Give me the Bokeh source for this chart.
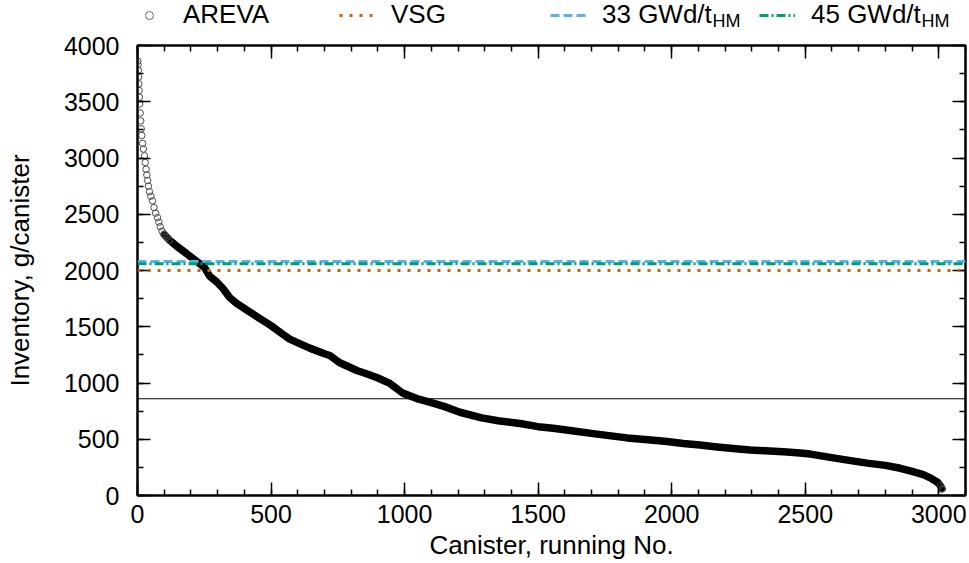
from bokeh.plotting import figure
from bokeh.layouts import column
from bokeh.models import (Legend, LegendItem, Label, Span, LinearAxis,
                          SingleIntervalTicker, Range1d)
from bokeh.embed import file_html
from bokeh.resources import INLINE

# ---------------- data ----------------
top_canister = [1, 2, 3, 4, 5, 6, 7, 8, 10, 12, 14, 16, 19, 22, 26, 29, 32, 35,
                38, 41, 45, 50, 56, 62, 68, 75, 80, 85, 92, 100, 110, 120]
top_inventory = [3860, 3830, 3780, 3720, 3660, 3600, 3540, 3480, 3400, 3330,
                 3260, 3200, 3130, 3080, 3020, 2960, 2900, 2850, 2800, 2750,
                 2700, 2660, 2620, 2560, 2510, 2470, 2430, 2390, 2350, 2320,
                 2295, 2270]

canister = [100, 120, 150, 184, 200, 232, 250, 270, 296, 320, 345, 370, 408,
            457, 500, 540, 570, 607, 645, 700, 720, 757, 795, 821, 860, 896,
            945, 993, 1046, 1100, 1150, 1207, 1289, 1350, 1432, 1500, 1556,
            1620, 1706, 1780, 1833, 1900, 1983, 2043, 2106, 2170, 2230, 2294,
            2350, 2418, 2481, 2519, 2560, 2605, 2670, 2732, 2800, 2856, 2900,
            2942, 2970, 2995, 3005, 3012]
inventory = [2320, 2270, 2210, 2150, 2120, 2062, 2030, 1950, 1900, 1840, 1760,
             1710, 1650, 1575, 1510, 1440, 1390, 1350, 1310, 1260, 1244, 1180,
             1140, 1111, 1080, 1049, 996, 910, 862, 825, 790, 740, 690, 665,
             640, 612, 598, 578, 550, 528, 512, 498, 480, 462, 448, 432, 418,
             405, 398, 388, 378, 368, 352, 334, 310, 288, 268, 242, 215, 185,
             155, 118, 90, 60]

vsg_value = 2000
gwd33_value = 2080
gwd45_value = 2060
reference_value = 860

x_limits = (0, 3100)
y_limits = (0, 4000)

legend_labels = ["AREVA", "VSG", "33 GWd/t", "45 GWd/t"]
subscript = "HM"

FONT = "Liberation Sans"
VSG_C, C33, C45 = "#D55E00", "#56B4E9", "#009E73"
LEG_H = 31

# ---------------- main figure ----------------
p = figure(frame_width=828, frame_height=450, output_backend="svg",
           toolbar_location=None,
           x_range=Range1d(*x_limits), y_range=Range1d(*y_limits),
           min_border_left=137, min_border_right=3, min_border_top=14,
           min_border_bottom=10)
p.grid.visible = False
p.outline_line_color = "black"
p.outline_line_width = 2

xt = SingleIntervalTicker(interval=500, num_minor_ticks=5)
yt = SingleIntervalTicker(interval=500, num_minor_ticks=2)

for ax in (p.xaxis[0], p.yaxis[0]):
    ax.axis_line_width = 2
    ax.major_tick_in = 13
    ax.major_tick_out = 0
    ax.minor_tick_in = 6
    ax.minor_tick_out = 0
    ax.major_tick_line_width = 1.5
    ax.minor_tick_line_width = 1.5
    ax.major_label_text_font = FONT
    ax.major_label_text_font_size = "25px"
    ax.major_label_text_color = "black"
    ax.axis_label_text_font = FONT
    ax.axis_label_text_font_size = "26px"
    ax.axis_label_text_font_style = "normal"
    ax.axis_label_text_color = "black"

p.xaxis[0].ticker = xt
p.yaxis[0].ticker = yt
p.xaxis[0].axis_label = "Canister, running No."
p.yaxis[0].axis_label = "Inventory, g/canister"
p.xaxis[0].major_label_standoff = 9
p.yaxis[0].major_label_standoff = 18
p.xaxis[0].axis_label_standoff = 4
p.yaxis[0].axis_label_standoff = 26

for loc, tick in (("right", yt), ("above", xt)):
    ax = LinearAxis(ticker=tick, major_label_text_font_size="0px",
                    axis_line_width=2, major_tick_in=13, major_tick_out=0,
                    minor_tick_in=6, minor_tick_out=0,
                    major_tick_line_width=1.5, minor_tick_line_width=1.5,
                    major_label_standoff=0)
    p.add_layout(ax, loc)

# reference lines
p.add_layout(Span(location=reference_value, dimension="width",
                  line_color="black", line_width=1.2))
p.add_layout(Span(location=vsg_value, dimension="width", line_color=VSG_C,
                  line_width=3, line_dash="3 7"))
p.add_layout(Span(location=gwd33_value, dimension="width", line_color=C33,
                  line_width=3, line_dash="9 4"))
p.add_layout(Span(location=gwd45_value, dimension="width", line_color=C45,
                  line_width=3, line_dash="9 3 2 3"))

# data
p.line(canister, inventory, line_color="black", line_width=7.5,
       line_join="round", line_cap="round")
p.scatter(top_canister, top_inventory, marker="circle", size=6.5,
          fill_color=None, line_color="#4d4d4d", line_width=1)
p.scatter(canister[-2:], inventory[-2:], marker="circle", size=6,
          fill_color=None, line_color="#4d4d4d", line_width=1)

# ---------------- legend strip (frame aligned with main frame) ----------------
lg = figure(frame_width=828, frame_height=LEG_H, output_backend="svg",
            toolbar_location=None, x_range=Range1d(*x_limits),
            y_range=Range1d(0, LEG_H), x_axis_type=None, y_axis_type=None,
            min_border_left=137, min_border_right=3,
            min_border_top=0, min_border_bottom=0)
lg.grid.visible = False
lg.outline_line_color = None

# style proxies (their data lies outside this strip's range, so only the
# legend keys are visible)
r_pt = lg.scatter(top_canister[:1], top_inventory[:1], marker="circle",
                  size=5, fill_color=None, line_color="#666666")
r_vsg = lg.line(list(x_limits), [vsg_value] * 2, line_color=VSG_C,
                line_width=3, line_dash="3 7")
r_33 = lg.line(list(x_limits), [gwd33_value] * 2, line_color=C33,
               line_width=3, line_dash="9 4")
r_45 = lg.line(list(x_limits), [gwd45_value] * 2, line_color=C45,
               line_width=3, line_dash="9 3 2 3")

leg_x = [-6, 202, 413, 622]
for lab, rend, lx in zip(legend_labels, [r_pt, r_vsg, r_33, r_45], leg_x):
    leg = Legend(items=[LegendItem(label=lab, renderers=[rend])],
                 location=(lx, 1), orientation="horizontal",
                 border_line_color=None, background_fill_alpha=0,
                 padding=0, margin=0, glyph_width=36, glyph_height=20,
                 label_standoff=16, label_text_font=FONT,
                 label_text_font_size="26px", label_height=20,
                 label_text_color="black")
    lg.add_layout(leg)

for sx in (575, 784):
    lg.add_layout(Label(x=sx, y=1, x_units="screen", y_units="screen",
                        text=subscript, text_font=FONT, text_font_size="18px",
                        text_color="black", text_baseline="bottom"))

layout = column(lg, p, spacing=0)
open("out.html", "w").write(file_html(layout, INLINE))
